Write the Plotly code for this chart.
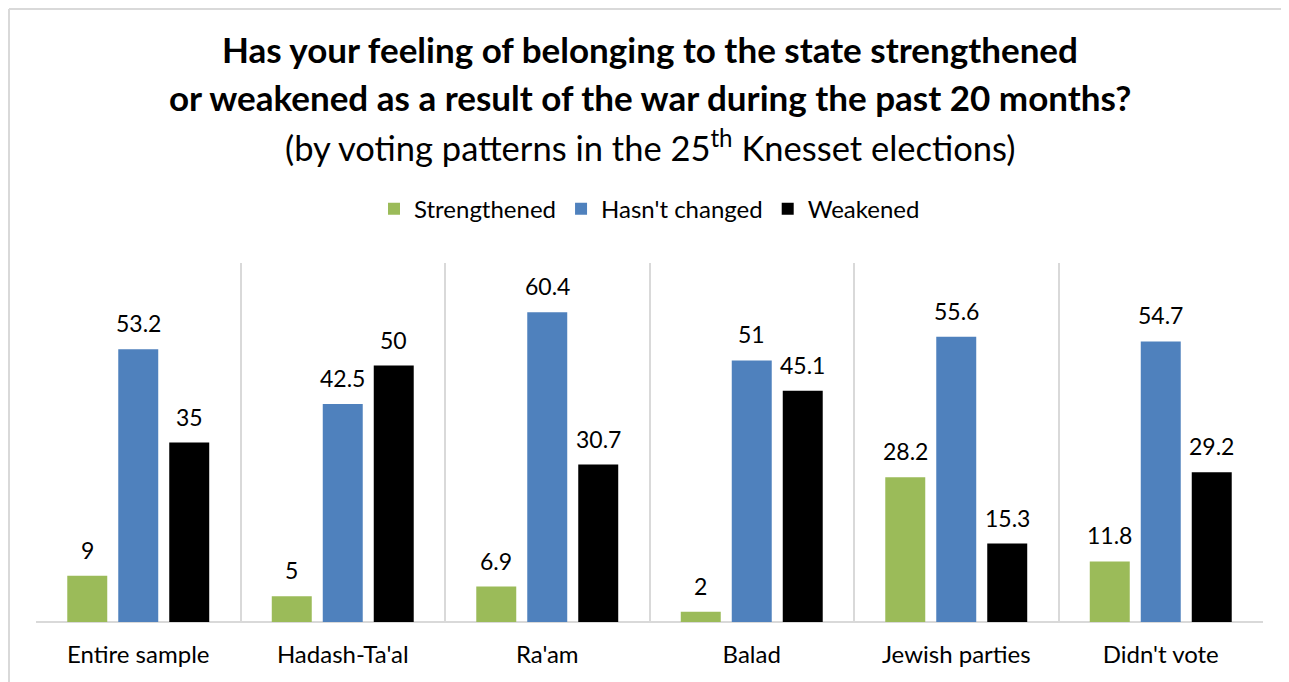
import plotly.graph_objects as go

categories = ["Entire sample", "Hadash-Ta'al", "Ra'am", "Balad", "Jewish parties", "Didn't vote"]
strengthened = [9, 5, 6.9, 2, 28.2, 11.8]
hasnt_changed = [53.2, 42.5, 60.4, 51, 55.6, 54.7]
weakened = [35, 50, 30.7, 45.1, 15.3, 29.2]
series_names = ["Strengthened", "Hasn't changed", "Weakened"]
colors = ["#9BBB59", "#4F81BD", "#000000"]

FONT = "Lato"
series = [strengthened, hasnt_changed, weakened]

fig = go.Figure()
for name, vals, col in zip(series_names, series, colors):
    fig.add_trace(go.Bar(x=categories, y=vals, name=name, marker_color=col,
                         marker_line_width=0))

annotations = []
for j, vals in enumerate(series):
    for c, v in zip(categories, vals):
        annotations.append(dict(x=c, y=v, xref="x", yref="y", text=f"{v:g}",
                                showarrow=False, xshift=(j - 1) * 51, yshift=10,
                                yanchor="bottom", font=dict(family=FONT, size=23, color="#000")))

annotations += [
    dict(x=0.5, y=1.595, xref="paper", yref="paper", showarrow=False, yanchor="middle",
         text="<b>Has your feeling of belonging to the state strengthened</b>",
         font=dict(family=FONT, size=35, color="#000")),
    dict(x=0.5, y=1.4616, xref="paper", yref="paper", showarrow=False, yanchor="middle",
         text="<b>or weakened as a result of the war during the past 20 months?</b>",
         font=dict(family=FONT, size=35, color="#000")),
    dict(x=0.5, y=1.3279, xref="paper", yref="paper", showarrow=False, yanchor="middle",
         text="(by voting patterns in the 25<sup>th</sup> Knesset elections)",
         font=dict(family=FONT, size=34.5, color="#000")),
]

fig.update_layout(
    width=1289, height=682,
    margin=dict(l=28, r=34, t=255, b=68),
    paper_bgcolor="white", plot_bgcolor="white",
    barmode="group", bargap=0.252, bargroupgap=0.216,
    showlegend=True,
    legend=dict(orientation="h", x=0.5, xanchor="center", y=1.15, yanchor="middle",
                font=dict(family=FONT, size=24, color="#000"), itemclick=False),
    annotations=annotations,
    xaxis=dict(showgrid=True, gridcolor="#d9d9d9", gridwidth=2, tickson="boundaries",
               ticks="", showline=False, zeroline=False, ticklabelstandoff=16,
               tickfont=dict(family=FONT, size=24, color="#000")),
    yaxis=dict(range=[0, 70], showgrid=False, showticklabels=False, zeroline=True,
               zerolinecolor="#d9d9d9", zerolinewidth=2, showline=False),
    shapes=[
        dict(type="line", xref="paper", yref="paper", x0=-0.022, x1=1.05, y0=1.7075, y1=1.7075,
             line=dict(color="#d9d9d9", width=2)),
        dict(type="line", xref="paper", yref="paper", x0=-0.022, x1=-0.022, y0=1.7075, y1=-0.25,
             line=dict(color="#d9d9d9", width=2)),
    ],
)

fig.write_html("out.html")
